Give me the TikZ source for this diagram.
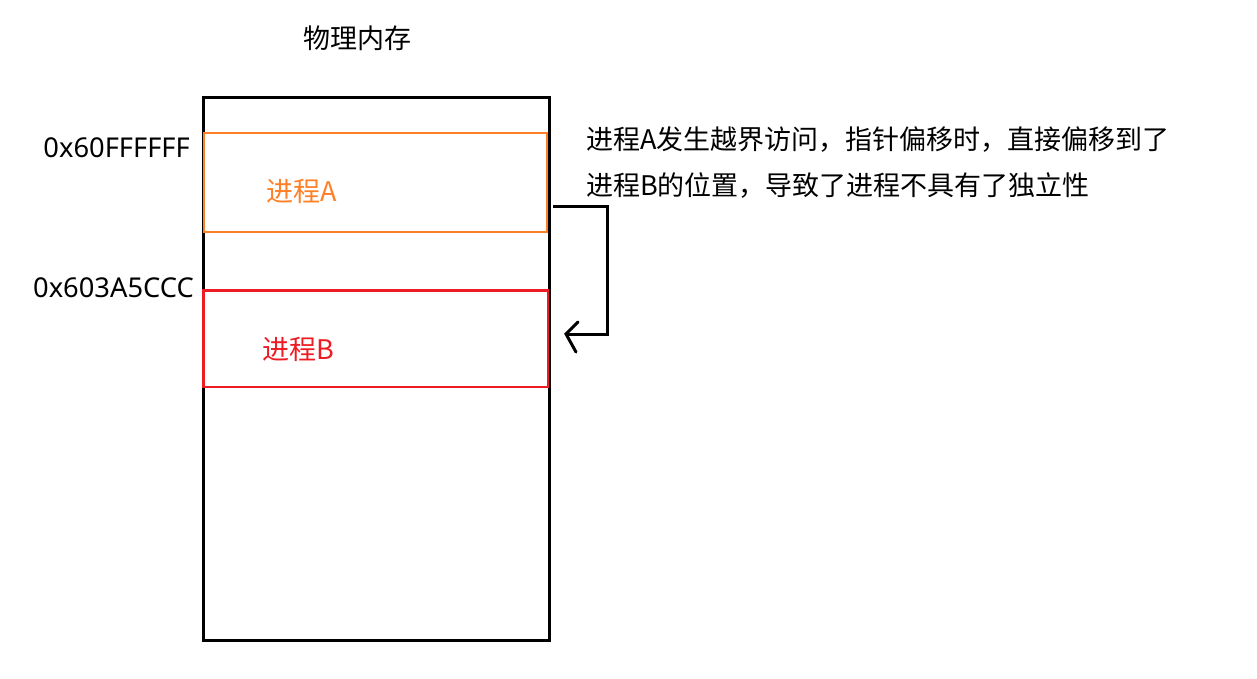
\documentclass[tikz,border=0pt]{standalone}
\usepackage{fontspec}
\setmainfont{Noto Sans}
\newfontfamily\cjk{Noto Sans CJK SC}
\definecolor{paintorange}{HTML}{FF7F27}
\definecolor{paintred}{HTML}{ED1C24}
\begin{document}
\begin{tikzpicture}[x=1pt,y=-1pt,
  lbl/.style={inner sep=0pt,font=\cjk\fontsize{27}{32}\selectfont},
  hexlbl/.style={inner sep=0pt,font=\fontsize{27.3}{32}\selectfont},
  mem/.style={draw=black,line width=3pt},
  proc/.style={line width=2.6pt}]
\useasboundingbox (0,0) rectangle (1257,678);
\fill[white] (0,0) rectangle (1257,678);
% memory
\draw[mem] (203,97) rectangle (549,640);
\node (mem) at (376,368) [minimum width=346pt,minimum height=543pt,inner sep=0pt] {};
\draw[proc,draw=paintorange] (204,133) rectangle (547,232);
\node (pa) at (375.5,182.5) [minimum width=343pt,minimum height=99pt,inner sep=0pt] {};
\draw[proc,draw=paintred] (203.5,290.5) rectangle (548,387);
\node (pb) at (375.75,338.75) [minimum width=344.5pt,minimum height=96.5pt,inner sep=0pt] {};
% labels
\node[lbl,anchor=center] (title) at (357,38) {物理内存};
\node[lbl,text=paintorange,anchor=west] (la) at (266,191) {进程A};
\node[lbl,text=paintred,anchor=west] (lb) at (262,349) {进程B};
\node[hexlbl,anchor=east] (h1) at (190,148) {0x60FFFFFF};
\node[hexlbl,anchor=east] (h2) at (194,288) {0x603A5CCC};
\node[lbl,anchor=west] (t1) at (586,140) {进程A发生越界访问，指针偏移时，直接偏移到了};
\node[lbl,anchor=west] (t2) at (586,186) {进程B的位置，导致了进程不具有了独立性};
% arrow
\coordinate (s) at (553,206);
\coordinate (tip) at (566,334);
\draw[line width=3pt] (s) -- (607,206) -- (607,334) -- (tip);
\draw[line width=3pt,line cap=round] (578,322) -- (tip) -- (576,352);
\end{tikzpicture}
\end{document}
